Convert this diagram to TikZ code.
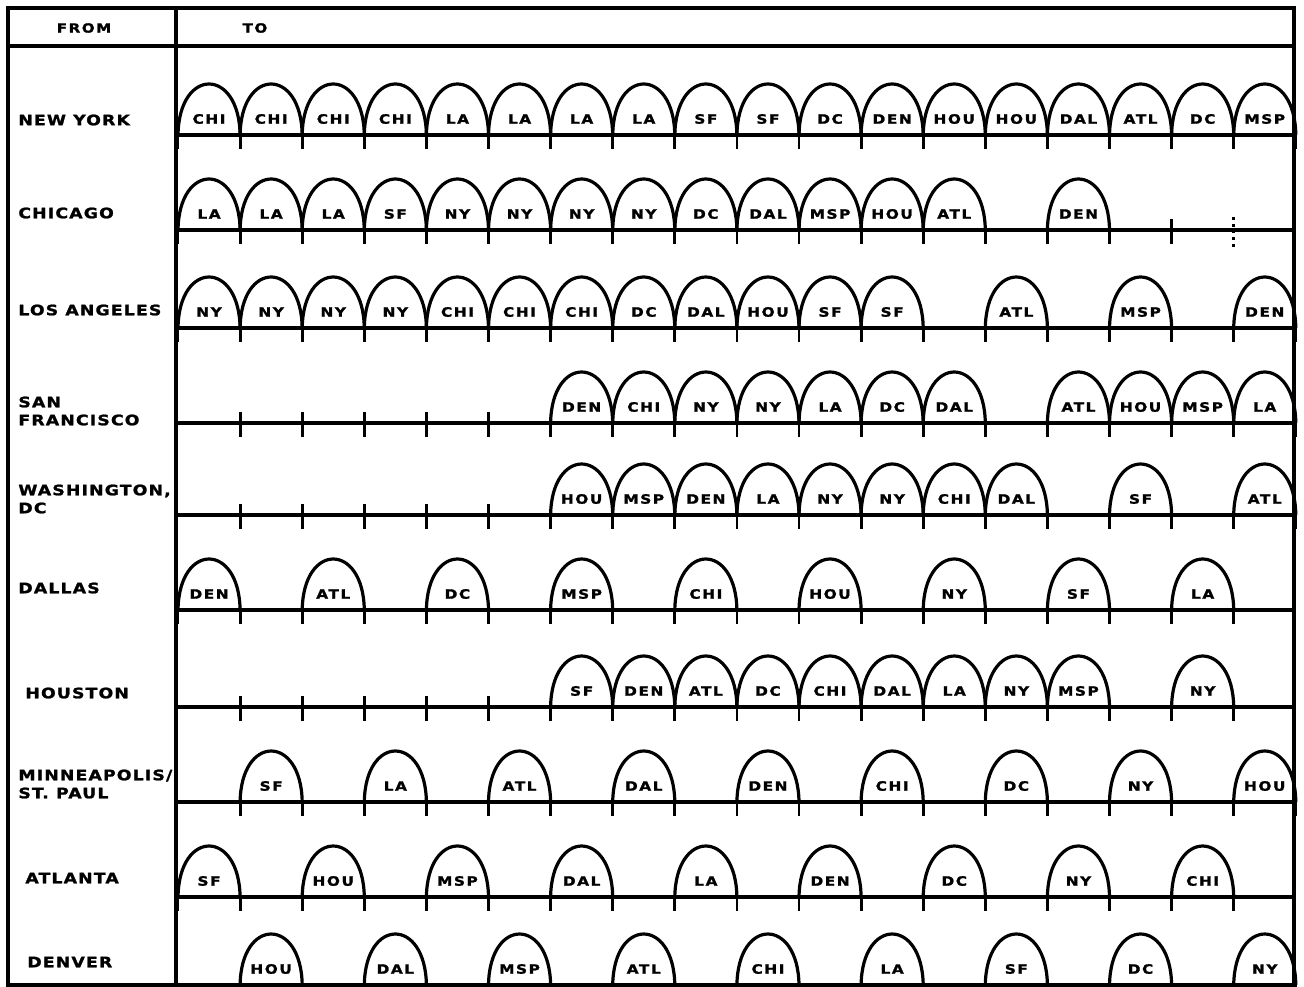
\documentclass[tikz,border=0pt]{standalone}
\usepackage{fontspec}
\newfontfamily\chartfont[LetterSpace=12, FakeStretch=1.2, FakeBold=1.5]{DejaVu Sans}
\newfontfamily\cityfont[LetterSpace=8, FakeStretch=1.2, FakeBold=1.5]{DejaVu Sans}
\usetikzlibrary{positioning}
\tikzset{
  headtext/.style={inner sep=0pt, font=\chartfont\bfseries\fontsize{6.3}{8}\selectfont},
  city/.style={anchor=west, inner sep=0pt, align=left,
               font=\cityfont\bfseries\fontsize{7.2}{9}\selectfont},
  dest/.style={inner sep=0pt, font=\chartfont\bfseries\fontsize{6.4}{8}\selectfont},
  timeline/.style={line width=1.6pt},
  archline/.style={line width=1.6pt},
  foottick/.style={line width=1.4pt},
  crosstick/.style={line width=1.4pt},
}
% one row: name, baseline y, list of slot/destination
\newcommand{\drawflights}[3]{%
  \draw[timeline] (176,#2) -- (1294,#2);
  \foreach \s/\d in {#3}{
    \pgfmathsetmacro\xl{178+62.1*\s}
    \pgfmathsetmacro\xr{\xl+62.1}
    \draw[archline] (\xl,#2) .. controls (\xl+1,#2-68) and (\xr-1,#2-68) .. (\xr,#2);
    \node[dest] (#1-\s) at ({(\xl+\xr)/2},#2-16) {\d};
    \draw[foottick] (\xl,#2) -- (\xl,#2+14) (\xr,#2) -- (\xr,#2+14);
  }}

\begin{document}
\begin{tikzpicture}[x=0.5pt, y=-0.5pt]
\path[use as bounding box, clip] (0,0) rectangle (1304,986);

% frame and header
\draw[timeline] (8,8) rectangle (1294,985);
\draw[timeline] (8,46) -- (1294,46);
\draw[timeline] (176,8) -- (176,985);
\node[headtext] (from) at (84,28) {FROM};
\node[headtext] (to) at (255,28) {TO};

% origin cities
\node[city] (newyork) at (18,120) {NEW YORK};
\node[city] (chicago) at (18,213) {CHICAGO};
\node[city] (losangeles) at (18,310) {LOS ANGELES};
\node[city] (sanfrancisco) at (18,411) {SAN\\FRANCISCO};
\node[city] (washington) at (18,499) {WASHINGTON,\\DC};
\node[city] (dallas) at (18,588) {DALLAS};
\node[city] (houston) at (25,693) {HOUSTON};
\node[city] (minneapolis) at (18,784) {MINNEAPOLIS/\\ST. PAUL};
\node[city] (atlanta) at (25,878) {ATLANTA};
\node[city] (denver) at (27,962) {DENVER};

% flights
\drawflights{ny}{135}{0/CHI,1/CHI,2/CHI,3/CHI,4/LA,5/LA,6/LA,7/LA,8/SF,9/SF,
  10/DC,11/DEN,12/HOU,13/HOU,14/DAL,15/ATL,16/DC,17/MSP}
\drawflights{chi}{230}{0/LA,1/LA,2/LA,3/SF,4/NY,5/NY,6/NY,7/NY,8/DC,9/DAL,
  10/MSP,11/HOU,12/ATL,14/DEN}
\drawflights{la}{328}{0/NY,1/NY,2/NY,3/NY,4/CHI,5/CHI,6/CHI,7/DC,8/DAL,9/HOU,
  10/SF,11/SF,13/ATL,15/MSP,17/DEN}
\drawflights{sf}{423}{6/DEN,7/CHI,8/NY,9/NY,10/LA,11/DC,12/DAL,14/ATL,15/HOU,
  16/MSP,17/LA}
\drawflights{dc}{515}{6/HOU,7/MSP,8/DEN,9/LA,10/NY,11/NY,12/CHI,13/DAL,15/SF,17/ATL}
\drawflights{dal}{610}{0/DEN,2/ATL,4/DC,6/MSP,8/CHI,10/HOU,12/NY,14/SF,16/LA}
\drawflights{hou}{707}{6/SF,7/DEN,8/ATL,9/DC,10/CHI,11/DAL,12/LA,13/NY,14/MSP,16/NY}
\drawflights{msp}{802}{1/SF,3/LA,5/ATL,7/DAL,9/DEN,11/CHI,13/DC,15/NY,17/HOU}
\drawflights{atl}{897}{0/SF,2/HOU,4/MSP,6/DAL,8/LA,10/DEN,12/DC,14/NY,16/CHI}
\drawflights{den}{985}{1/HOU,3/DAL,5/MSP,7/ATL,9/CHI,11/LA,13/SF,15/DC,17/NY}

% free time marks
\foreach \b in {1,...,5}{
  \draw[crosstick] ({178+62.1*\b},412) -- ++(0,25);
  \draw[crosstick] ({178+62.1*\b},504) -- ++(0,25);
  \draw[crosstick] ({178+62.1*\b},696) -- ++(0,25);
}
\draw[crosstick] ({178+62.1*16},219) -- ++(0,25);
\draw[crosstick, dotted] ({178+62.1*17},217) -- ++(0,30);
\end{tikzpicture}
\end{document}
